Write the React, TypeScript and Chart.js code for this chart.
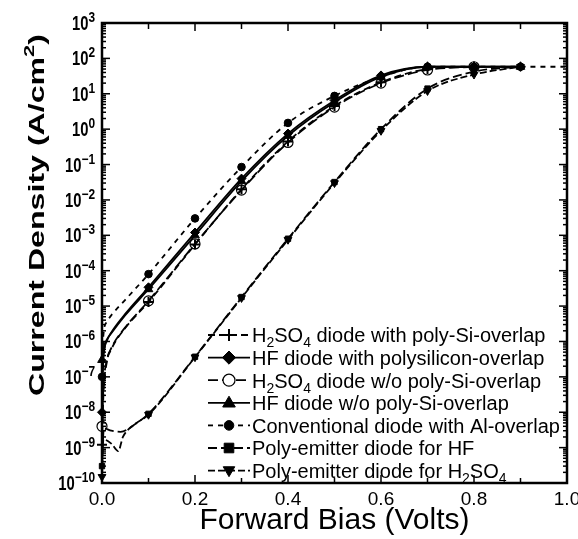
import React, { useEffect, useRef } from 'react';
import { Chart, registerables } from 'chart.js';

Chart.register(...registerables);

// ---------------- data ----------------
const h2so4WithX = [0, 0.003, 0.01, 0.02, 0.05, 0.1, 0.2, 0.3, 0.4, 0.5, 0.6, 0.7, 0.8];
const h2so4WithY = [1.2e-9, 3e-8, 2.5e-7, 6e-7, 2.4e-6, 1.3e-5, 5.5e-4, 0.02, 0.45, 4.5, 21, 50, 58];

const hfWithX = [0, 0.003, 0.01, 0.02, 0.05, 0.1, 0.2, 0.3, 0.4, 0.5, 0.6, 0.7, 0.8, 0.9];
const hfWithY = [1e-8, 3e-7, 1e-6, 1.8e-6, 6e-6, 3.4e-5, 1.2e-3, 0.04, 0.75, 6.5, 33, 58, 58, 58];

const h2so4WoX = [0, 0.003, 0.01, 0.02, 0.05, 0.1, 0.2, 0.3, 0.4, 0.5, 0.6, 0.7, 0.8];
const h2so4WoY = [4e-9, 5e-8, 2.8e-7, 6.5e-7, 2.5e-6, 1.4e-5, 5.7e-4, 0.019, 0.42, 4.2, 20, 47, 58];

const hfWoX = [0, 0.003, 0.01, 0.02, 0.05, 0.1, 0.2, 0.3, 0.4, 0.5, 0.6, 0.7, 0.8, 0.9];
const hfWoY = [3e-7, 6e-7, 1.1e-6, 1.7e-6, 5.5e-6, 3e-5, 1e-3, 0.034, 0.65, 5.8, 30, 58, 58, 58];

const convX = [0, 0.003, 0.01, 0.02, 0.05, 0.1, 0.2, 0.3, 0.4, 0.5, 0.6, 0.7, 0.8, 0.9, 1.0];
const convY = [1e-7, 1.5e-6, 3.5e-6, 5.5e-6, 1.5e-5, 8e-5, 3e-3, 0.085, 1.5, 8.7, 30, 58, 58, 58, 58];

const polyHfX = [0, 0.004, 0.02, 0.04, 0.07, 0.1, 0.2, 0.3, 0.4, 0.5, 0.6, 0.7, 0.8, 0.9];
const polyHfY = [3e-10, 3.5e-9, 3e-9, 2.8e-9, 4.5e-9, 9e-9, 3.7e-7, 1.8e-5, 8e-4, 0.032, 1.0, 14, 42, 58];

const polyH2X = [0, 0.003, 0.02, 0.035, 0.045, 0.07, 0.1, 0.2, 0.3, 0.4, 0.5, 0.6, 0.7, 0.8, 0.9];
const polyH2Y = [1.5e-10, 1.7e-9, 1.3e-9, 8e-10, 2e-9, 4.5e-9, 8.5e-9, 3.6e-7, 1.7e-5, 7.5e-4, 0.03, 0.9, 12, 35, 58];

const seriesNames = [
  'H_2SO_4 diode with poly-Si-overlap',
  'HF diode with polysilicon-overlap',
  'H_2SO_4 diode w/o poly-Si-overlap',
  'HF diode w/o poly-Si-overlap',
  'Conventional diode with Al-overlap',
  'Poly-emitter diode for HF',
  'Poly-emitter diode for H_2SO_4',
];

const xTickValues = [0, 0.2, 0.4, 0.6, 0.8, 1.0];
const xTickLabels = ['0.0', '0.2', '0.4', '0.6', '0.8', '1.0'];
const xMinorTickValues = [0.1, 0.3, 0.5, 0.7, 0.9];
const yTickExponents = [3, 2, 1, 0, -1, -2, -3, -4, -5, -6, -7, -8, -9, -10];
const xTitle = 'Forward Bias (Volts)';
const yTitleMain = 'Current Density (A/cm';
const yTitleSup = '2';
const yTitleEnd = ')';

// ---------------- styles ----------------
const FONT = '"Liberation Sans", Arial, Helvetica, sans-serif';

type Style = { dash: number[]; point: string; radius: number; filled: boolean; rotation: number; pbw: number };
const styles: Style[] = [
  { dash: [7, 4], point: 'cross', radius: 5, filled: true, rotation: 0, pbw: 2 },
  { dash: [], point: 'rectRot', radius: 4.5, filled: true, rotation: 0, pbw: 1 },
  { dash: [10, 4], point: 'circle', radius: 5, filled: false, rotation: 0, pbw: 1.2 },
  { dash: [], point: 'triangle', radius: 5, filled: true, rotation: 0, pbw: 1 },
  { dash: [5, 5], point: 'circle', radius: 3.8, filled: true, rotation: 0, pbw: 1 },
  { dash: [9, 4], point: 'rect', radius: 3.8, filled: true, rotation: 0, pbw: 1 },
  { dash: [7, 3], point: 'triangle', radius: 4.5, filled: true, rotation: 180, pbw: 1 },
];

const seriesXs = [h2so4WithX, hfWithX, h2so4WoX, hfWoX, convX, polyHfX, polyH2X];
const seriesYs = [h2so4WithY, hfWithY, h2so4WoY, hfWoY, convY, polyHfY, polyH2Y];

const isMarker = (x: number) => x <= 0.9001 && Math.abs(x * 10 - Math.round(x * 10)) < 1e-6;

type Seg = { t: string; font: string; dy: number; sx: number };

function segWidth(ctx: CanvasRenderingContext2D, s: Seg) {
  ctx.font = s.font;
  return ctx.measureText(s.t).width * s.sx;
}

function drawSegs(ctx: CanvasRenderingContext2D, segs: Seg[], x: number, y: number, align: 'left' | 'right' | 'center') {
  const total = segs.reduce((a, s) => a + segWidth(ctx, s), 0);
  let cur = align === 'left' ? x : align === 'right' ? x - total : x - total / 2;
  for (const s of segs) {
    const w = segWidth(ctx, s);
    ctx.save();
    ctx.translate(cur, y + s.dy);
    ctx.scale(s.sx, 1);
    ctx.font = s.font;
    ctx.textBaseline = 'alphabetic';
    ctx.textAlign = 'left';
    ctx.fillText(s.t, 0, 0);
    ctx.restore();
    cur += w;
  }
  return total;
}

function nameSegs(name: string): Seg[] {
  const parts = name.split(/_(\d)/);
  const segs: Seg[] = [];
  parts.forEach((p, i) => {
    if (!p) return;
    if (i % 2 === 1) segs.push({ t: p, font: `14px ${FONT}`, dy: 5, sx: 1 });
    else segs.push({ t: p, font: `20px ${FONT}`, dy: 0, sx: 1 });
  });
  return segs;
}

function drawMarker(ctx: CanvasRenderingContext2D, st: Style, cx: number, cy: number, r: number) {
  ctx.save();
  ctx.setLineDash([]);
  ctx.strokeStyle = '#000';
  ctx.fillStyle = st.filled ? '#000' : '#fff';
  ctx.lineWidth = st.pbw;
  ctx.beginPath();
  if (st.point === 'cross') {
    ctx.moveTo(cx - r, cy); ctx.lineTo(cx + r, cy);
    ctx.moveTo(cx, cy - r); ctx.lineTo(cx, cy + r);
    ctx.stroke();
  } else if (st.point === 'rectRot') {
    ctx.moveTo(cx, cy - r * 1.2); ctx.lineTo(cx + r * 1.2, cy); ctx.lineTo(cx, cy + r * 1.2); ctx.lineTo(cx - r * 1.2, cy);
    ctx.closePath(); ctx.fill(); ctx.stroke();
  } else if (st.point === 'circle') {
    ctx.arc(cx, cy, r, 0, Math.PI * 2);
    ctx.fill();
    ctx.stroke();
  } else if (st.point === 'rect') {
    ctx.rect(cx - r, cy - r, 2 * r, 2 * r); ctx.fill(); ctx.stroke();
  } else if (st.point === 'triangle') {
    const d = st.rotation === 180 ? -1 : 1;
    ctx.moveTo(cx, cy - d * r * 1.1); ctx.lineTo(cx + r * 1.05, cy + d * r * 0.7); ctx.lineTo(cx - r * 1.05, cy + d * r * 0.7);
    ctx.closePath(); ctx.fill(); ctx.stroke();
  }
  ctx.restore();
}

const framePlugin = {
  id: 'frameAndText',
  afterDatasetsDraw(chart: any) {
    const ctx: CanvasRenderingContext2D = chart.ctx;
    const a = chart.chartArea;
    const xs = chart.scales.x;
    const ys = chart.scales.y;
    ctx.save();
    ctx.strokeStyle = '#000';
    ctx.fillStyle = '#000';
    ctx.setLineDash([]);
    const line = (x1: number, y1: number, x2: number, y2: number) => {
      ctx.beginPath(); ctx.moveTo(x1, y1); ctx.lineTo(x2, y2); ctx.stroke();
    };
    // ticks on y (log)
    ctx.lineWidth = 1.5;
    const minE = Math.min(...yTickExponents);
    const maxE = Math.max(...yTickExponents);
    for (let e = minE; e <= maxE; e++) {
      const py = ys.getPixelForValue(Math.pow(10, e));
      line(a.left, py, a.left + 8, py);
      line(a.right, py, a.right - 8, py);
      if (e < maxE) {
        for (let m = 2; m <= 9; m++) {
          const pm = ys.getPixelForValue(m * Math.pow(10, e));
          line(a.left, pm, a.left + 4, pm);
          line(a.right, pm, a.right - 4, pm);
        }
      }
    }
    // ticks on x
    for (const v of xTickValues) {
      const px = xs.getPixelForValue(v);
      line(px, a.bottom, px, a.bottom - 8);
      line(px, a.top, px, a.top + 8);
    }
    for (const v of xMinorTickValues) {
      const px = xs.getPixelForValue(v);
      line(px, a.bottom, px, a.bottom - 5);
      line(px, a.top, px, a.top + 6);
    }
    // frame
    ctx.lineWidth = 2.5;
    ctx.strokeRect(a.left, a.top, a.right - a.left, a.bottom - a.top);

    // x tick labels
    xTickValues.forEach((v, i) => {
      const px = xs.getPixelForValue(v);
      drawSegs(ctx, [{ t: xTickLabels[i], font: `19px ${FONT}`, dy: 0, sx: 1 }], px, a.bottom + 22, 'center');
    });
    // y tick labels
    for (const e of yTickExponents) {
      const py = ys.getPixelForValue(Math.pow(10, e));
      const sup = e < 0 ? '\u2212' + String(-e) : String(e);
      drawSegs(ctx, [
        { t: '10', font: `bold 20px ${FONT}`, dy: 0, sx: 0.74 },
        { t: sup, font: `bold 14px ${FONT}`, dy: -8, sx: 0.85 },
      ], a.left - 7, py + 7, 'right');
    }
    // x title
    drawSegs(ctx, [{ t: xTitle, font: `30px ${FONT}`, dy: 0, sx: 1 }], (a.left + a.right) / 2, a.bottom + 46, 'center');
    // y title (rotated, stretched)
    ctx.save();
    ctx.translate(36, 215);
    ctx.rotate(-Math.PI / 2);
    const ySegs: Seg[] = [
      { t: yTitleMain, font: `bold 22px ${FONT}`, dy: 0, sx: 1 },
      { t: yTitleSup, font: `bold 15px ${FONT}`, dy: -10, sx: 1 },
      { t: yTitleEnd, font: `bold 22px ${FONT}`, dy: 0, sx: 1 },
    ];
    const natural = ySegs.reduce((acc, s) => acc + segWidth(ctx, s), 0);
    const stretch = 362 / natural;
    ySegs.forEach((s) => (s.sx = stretch));
    drawSegs(ctx, ySegs, 0, 8, 'center');
    ctx.restore();

    // legend
    const rowTop = 335;
    const rowGap = 22.6;
    seriesNames.forEach((name, i) => {
      const cy = rowTop + i * rowGap;
      const st = styles[i];
      ctx.save();
      ctx.lineWidth = 1.8;
      ctx.setLineDash(st.dash);
      line(208, cy, 250, cy);
      ctx.restore();
      drawMarker(ctx, st, 229, cy, st.radius + 1);
      drawSegs(ctx, nameSegs(name), 252, cy + 7.3, 'left');
    });
    ctx.restore();
  },
};

export default function App() {
  const ref = useRef<HTMLCanvasElement | null>(null);
  useEffect(() => {
    if (!ref.current) return;
    const datasets = seriesNames.map((name, i) => {
      const st = styles[i];
      const xsArr = seriesXs[i];
      const ysArr = seriesYs[i];
      return {
        label: name,
        data: xsArr.map((x, j) => ({ x, y: ysArr[j] })),
        borderColor: '#000',
        borderWidth: 1.8,
        borderDash: st.dash,
        pointStyle: st.point,
        pointRotation: st.rotation,
        pointRadius: xsArr.map((x) => (isMarker(x) ? st.radius : 0)),
        pointBackgroundColor: st.filled ? '#000' : 'rgba(0,0,0,0)',
        pointBorderColor: '#000',
        pointBorderWidth: st.pbw,
        cubicInterpolationMode: 'monotone',
        fill: false,
        clip: false,
      };
    });
    const chart = new Chart(ref.current, {
      type: 'line',
      data: { datasets } as any,
      options: {
        animation: false,
        responsive: false,
        events: [],
        layout: { padding: { left: 102, top: 23, right: 11, bottom: 56 } },
        plugins: { legend: { display: false }, tooltip: { enabled: false } },
        scales: {
          x: { type: 'linear', min: 0, max: 1, display: false },
          y: { type: 'logarithmic', min: 1e-10, max: 1e3, display: false },
        },
      } as any,
      plugins: [framePlugin],
    });
    return () => chart.destroy();
  }, []);
  return (
    <div style={{ position: 'fixed', left: 0, top: 0, width: 578, height: 539, background: '#fff' }}>
      <canvas ref={ref} width={578} height={539} style={{ display: 'block' }} />
    </div>
  );
}
